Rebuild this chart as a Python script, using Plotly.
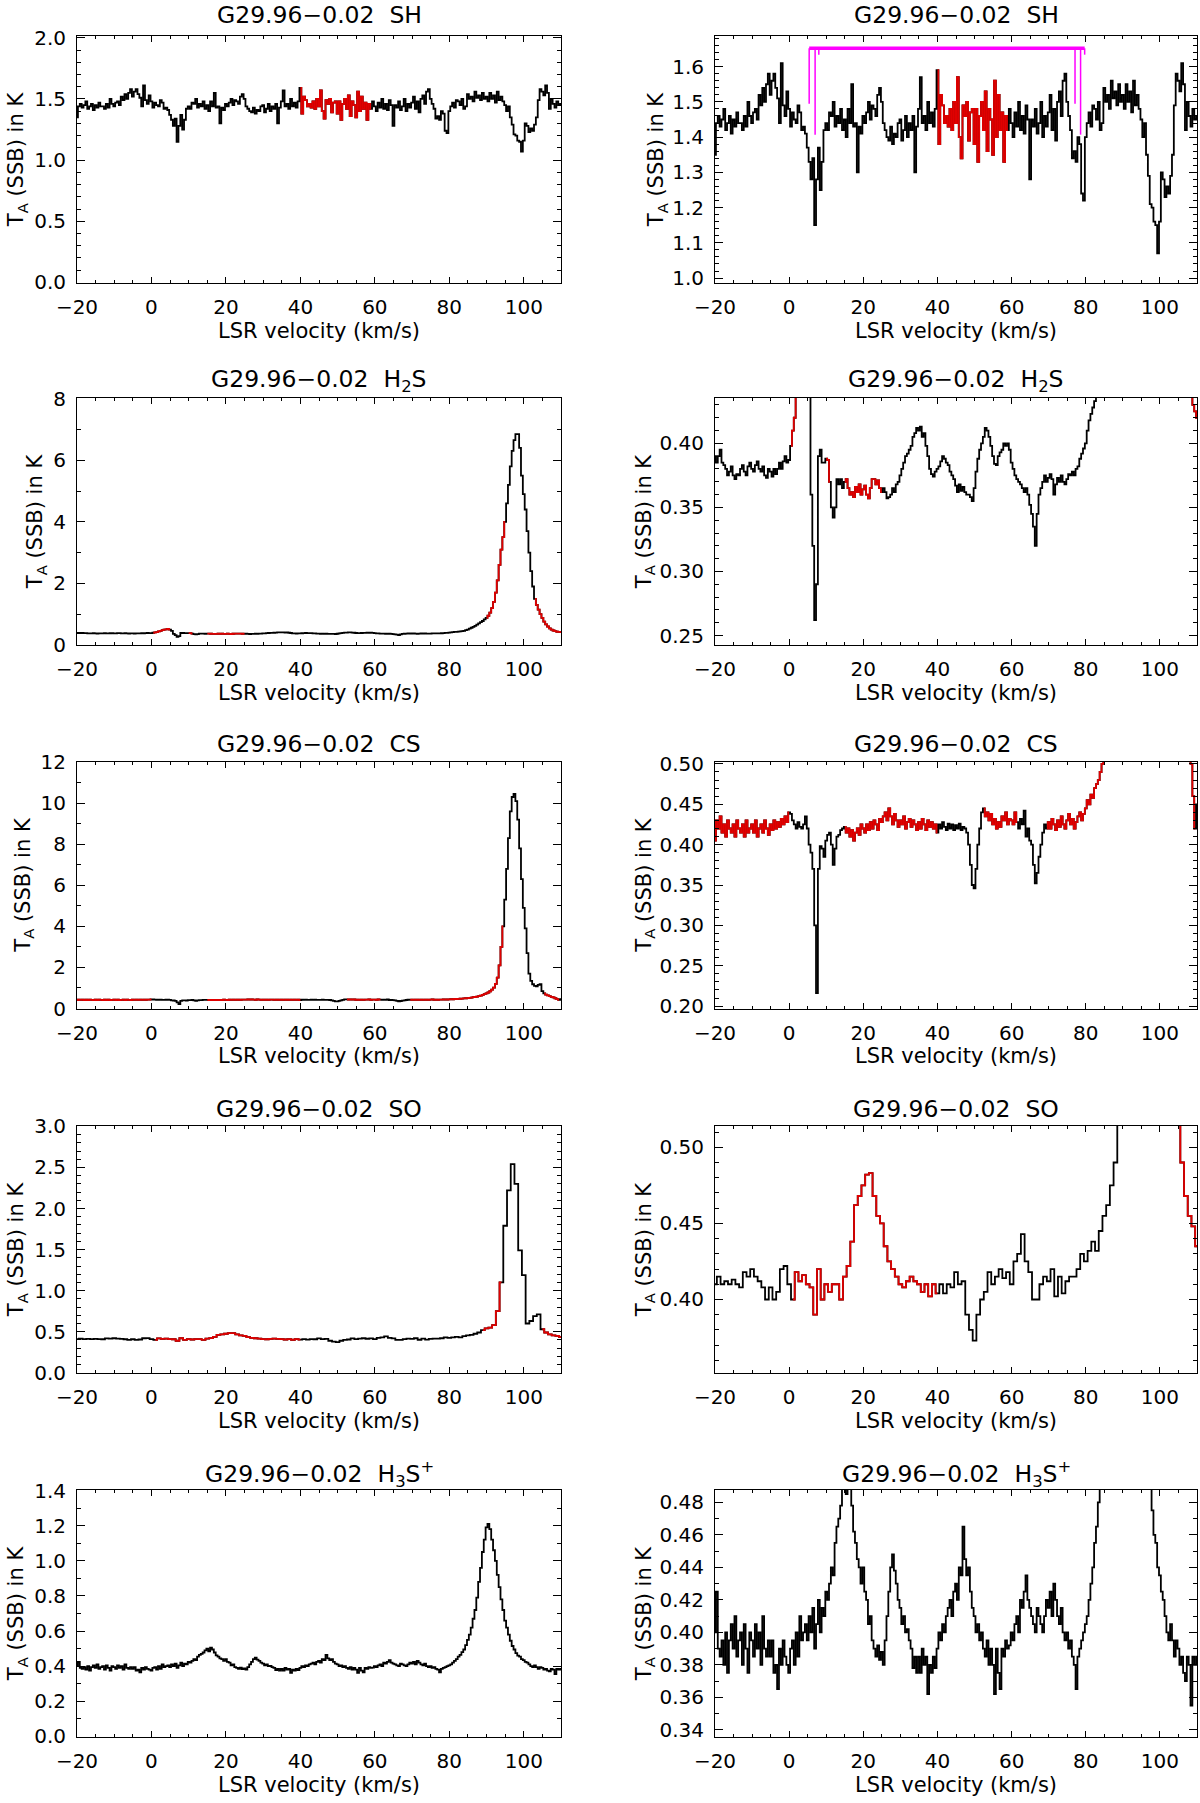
import numpy as np
import plotly.graph_objects as go

# ---------------- data (antenna temperature in mK) ----------------
V_START = -20.0          # first channel, km/s
DV = 0.5                 # channel width SH, H2S, CS, H3S+
DV_SO = 1.0              # channel width SO

sh_mK = [
    1350,1440,1460,1430,1450,1480,1420,1440,1460,1410,
    1450,1430,1470,1440,1440,1420,1460,1430,1500,1460,
    1440,1470,1480,1450,1520,1490,1540,1500,1550,1580,
    1520,1560,1580,1540,1510,1440,1610,1490,1460,1530,
    1480,1430,1470,1450,1440,1490,1470,1420,1430,1410,
    1370,1330,1280,1340,1150,1280,1370,1250,1330,1420,
    1440,1420,1470,1460,1500,1430,1460,1440,1480,1420,
    1450,1400,1480,1440,1550,1430,1440,1300,1430,1410,
    1460,1440,1470,1500,1450,1490,1480,1460,1520,1540,
    1500,1440,1420,1400,1390,1430,1380,1410,1400,1440,
    1450,1390,1420,1460,1400,1440,1420,1460,1300,1430,
    1480,1570,1440,1460,1420,1500,1440,1470,1430,1480,
    1590,1380,1520,1490,1440,1460,1430,1480,1420,1500,
    1440,1570,1400,1340,1490,1460,1500,1390,1470,1480,
    1380,1480,1330,1460,1500,1420,1530,1360,1480,1450,
    1350,1560,1400,1520,1420,1470,1330,1460,1420,1480,
    1440,1400,1470,1430,1500,1420,1460,1410,1490,1450,
    1280,1450,1430,1480,1410,1440,1500,1400,1460,1430,
    1470,1520,1420,1480,1390,1500,1530,1460,1560,1580,
    1500,1460,1420,1340,1360,1330,1400,1380,1240,1220,
    1400,1440,1470,1430,1490,1480,1450,1500,1420,1440,
    1540,1500,1520,1480,1560,1510,1530,1490,1550,1500,
    1520,1480,1550,1500,1530,1470,1560,1490,1520,1480,
    1450,1400,1440,1350,1290,1210,1200,1160,1150,1070,
    1160,1300,1280,1230,1260,1240,1290,1350,1490,1580,
    1560,1530,1610,1550,1420,1500,1460,1430,1480,1450,
    1460]

h2s_mK = [
    390,385,390,395,385,383,380,375,378,382,
    375,372,376,375,380,383,378,375,382,385,
    380,378,383,386,380,378,382,375,373,380,
    378,374,380,376,380,385,380,386,390,385,
    387,398,410,420,440,460,480,500,510,520,
    500,460,360,320,262,290,390,395,385,385,
    388,387,370,350,342,350,372,368,372,365,
    370,372,365,360,362,358,366,362,368,360,
    364,367,360,357,365,372,372,368,371,365,
    362,365,362,357,358,360,365,362,368,370,
    375,380,385,390,392,395,398,405,408,412,
    410,413,405,408,398,390,380,376,374,378,
    380,382,386,390,388,385,383,378,375,372,
    367,362,368,363,366,362,360,360,358,355,
    365,378,388,395,400,405,412,410,405,398,
    390,384,383,390,393,395,400,398,400,395,
    385,380,375,372,370,368,365,362,365,360,
    352,345,335,320,345,360,365,370,375,370,
    373,376,372,360,368,373,370,375,370,368,
    372,376,375,378,375,380,382,388,392,396,
    400,410,418,423,428,433,440,450,460,480,
    500,530,560,590,620,660,700,740,780,830,
    880,950,1050,1200,1400,1700,2100,2600,3100,3500,
    4000,4600,5200,5800,6300,6650,6850,6850,6400,5500,
    4900,4400,3700,3000,2400,1900,1500,1300,1150,1000,
    880,760,670,600,540,500,470,450,430,425,
    420]

cs_mK = [
    405,430,420,435,415,425,410,430,420,415,
    425,410,430,420,415,425,410,430,415,420,
    425,415,430,410,420,425,415,430,420,412,
    425,418,430,420,428,422,432,425,435,428,
    440,438,430,425,420,428,422,420,425,435,
    420,400,390,370,300,216,370,398,395,385,
    405,412,415,400,375,395,410,412,418,420,
    422,415,420,410,418,405,415,420,412,425,
    420,415,425,418,428,420,430,425,418,432,
    428,435,440,430,445,435,425,438,430,422,
    430,425,435,420,428,432,422,430,425,418,
    428,420,432,425,418,430,422,428,420,425,
    415,425,420,428,422,418,426,420,425,418,
    424,420,426,418,422,420,415,400,375,350,
    346,370,400,420,440,445,435,440,430,438,
    425,432,420,428,422,435,430,440,425,432,
    430,425,440,428,420,432,425,442,410,420,
    405,400,375,352,365,385,400,415,425,420,
    428,420,432,425,418,430,422,435,425,420,
    430,438,425,432,420,428,435,440,430,438,
    445,455,450,462,458,470,475,480,490,500,
    510,520,530,550,560,580,600,630,660,700,
    740,780,840,920,1020,1200,1500,2100,3000,4000,
    5300,6800,8300,9600,10300,10450,10100,9200,7800,6300,
    4900,3900,2700,1700,1350,1180,1100,1080,1150,1180,
    850,740,680,640,600,570,540,500,460,420,
    450]

so_mK = [
    410,415,410,412,410,413,410,408,418,415,
    420,415,412,408,400,408,400,405,420,422,
    410,400,418,412,416,410,408,390,420,400,
    410,405,410,410,400,415,422,438,462,468,
    475,482,483,468,455,450,435,425,420,415,
    410,408,412,415,412,410,405,410,402,410,
    404,410,404,410,408,418,410,412,390,380,
    373,390,400,405,418,410,415,420,414,418,
    410,425,430,443,425,418,400,400,410,415,
    412,420,402,415,404,412,415,415,420,430,
    425,432,438,432,445,455,462,475,490,520,
    540,550,580,750,1100,1790,2220,2540,2300,1490,
    1190,600,630,690,710,530,490,468,455,448,
    435]

h3sp_mK = [
    400,425,390,385,395,380,400,375,395,405,
    390,410,385,395,400,380,405,390,375,400,
    395,385,405,390,400,380,410,390,385,395,
    385,395,375,380,365,390,380,395,385,380,
    375,390,395,380,400,385,410,395,400,405,
    395,410,400,415,390,405,420,400,415,410,
    425,420,430,440,435,455,465,470,478,490,
    500,485,505,495,478,462,455,445,440,430,
    440,425,420,405,410,395,390,385,392,383,
    388,380,395,410,425,440,448,438,430,420,
    415,405,410,400,402,395,390,378,385,375,
    385,375,390,380,385,362,380,375,385,378,
    390,400,395,405,400,410,415,420,410,425,
    430,420,440,435,465,445,435,440,425,415,
    410,400,405,395,400,390,385,395,380,390,
    380,362,390,375,365,390,385,395,390,392,
    400,395,405,410,400,420,415,425,435,420,
    415,410,405,400,415,410,405,400,410,420,
    415,425,410,430,420,410,405,415,400,395,
    400,390,395,385,380,365,385,390,395,400,
    405,410,420,430,440,455,465,480,495,520,
    550,580,620,670,720,790,880,960,1050,1120,
    1190,1210,1180,1120,1060,1000,920,850,780,720,
    660,620,580,545,515,495,475,460,455,440,
    435,425,420,410,400,395,405,395,385,395,
    390,380,385,375,370,385,380,355,385,380,
    385]

# velocity windows drawn in red (km/s)
red_sh = [(40, 59)]
red_h2s = [(0.5, 5), (10, 11), (15, 25), (90, 95), (103, 110)]
red_cs = [(-20, 0), (15, 40), (52.5, 61.5), (69.5, 94.5), (105.5, 109.5)]
red_so = [(1, 40), (89, 94), (105, 110)]
red_h3sp = []

# SH hyperfine marker (magenta) on the zoomed SH panel
hfs_v = [5.4, 7.0, 8.0, 77.1, 78.6, 79.7]
hfs_bottom = [1.495, 1.407, 1.634, 1.495, 1.407, 1.634]
hfs_level = 1.652

titles = ["G29.96\u22120.02  SH", "G29.96\u22120.02  H<sub>2</sub>S", "G29.96\u22120.02  CS",
          "G29.96\u22120.02  SO", "G29.96\u22120.02  H<sub>3</sub>S<sup>+</sup>"]

# y-axis settings: (range, dtick, minor dtick, format) for left / right
yleft = [([-0.005, 2.015], 0.5, 0.1, ".1f"),
         ([0, 8.02], 2, 1, "d"),
         ([0, 12.03], 2, 1, "d"),
         ([-0.003, 3.005], 0.5, 0.1, ".1f"),
         ([-0.003, 1.403], 0.2, 0.1, ".1f")]
yright = [([0.986, 1.687], 0.1, 0.02, ".1f"),
          ([0.2426, 0.4354], 0.05, 0.01, ".2f"),
          ([0.197, 0.503], 0.05, 0.01, ".2f"),
          ([0.3517, 0.514], 0.05, 0.01, ".2f"),
          ([0.3356, 0.4876], 0.02, 0.01, ".2f")]

# ---------------- build ----------------
spectra = [sh_mK, h2s_mK, cs_mK, so_mK, h3sp_mK]
steps = [DV, DV, DV, DV_SO, DV]
reds = [red_sh, red_h2s, red_cs, red_so, red_h3sp]

W, H = 1200, 1803
XL = (77, 561)
XR = (715, 1197)
ROW_TOP = [36, 398, 761.5, 1126, 1490]
TITLE_Y = [15, 380, 744, 1109, 1474]
PH = 247
FONT = "DejaVu Sans, Liberation Sans, Arial, sans-serif"
RED = "#e00000"
LW = 1.8
TICKSIZE = 20
TITLESIZE = 21

fig = go.Figure()
layout = dict(width=W, height=H, margin=dict(l=0, r=0, t=0, b=0), autosize=False,
              paper_bgcolor="white", plot_bgcolor="white", showlegend=False,
              font=dict(family=FONT, color="black"))
annotations = []

for r in range(5):
    temps = np.array(spectra[r], dtype=float) / 1000.0
    v = V_START + steps[r] * np.arange(len(temps))
    t_px = ROW_TOP[r]
    b_px = t_px + PH
    ydom = [1 - b_px / H, 1 - t_px / H]
    for c in range(2):
        n = 2 * r + c + 1
        xs = "x" if n == 1 else f"x{n}"
        ys = "y" if n == 1 else f"y{n}"
        xname = "xaxis" if n == 1 else f"xaxis{n}"
        yname = "yaxis" if n == 1 else f"yaxis{n}"
        xp = XL if c == 0 else XR
        xdom = [xp[0] / W, xp[1] / W]

        fig.add_trace(go.Scatter(x=v, y=temps, mode="lines", line=dict(color="black", width=LW, shape="hvh"),
                                 xaxis=xs, yaxis=ys, hoverinfo="skip"))
        for (a, b) in reds[r]:
            m = (v >= a - 1e-9) & (v <= b + 1e-9)
            fig.add_trace(go.Scatter(x=v[m], y=temps[m], mode="lines",
                                     line=dict(color=RED, width=LW, shape="hvh"),
                                     xaxis=xs, yaxis=ys, hoverinfo="skip"))

        yr, ydt, ymin, yfmt = (yleft if c == 0 else yright)[r]
        layout[xname] = dict(domain=xdom, anchor=ys, range=[-20, 110], tick0=0, dtick=20,
                             ticks="inside", ticklen=6, tickwidth=1, tickcolor="black",
                             minor=dict(ticks="inside", ticklen=3, dtick=5, tick0=0,
                                        tickcolor="black", tickwidth=1),
                             showline=True, linecolor="black", linewidth=1, mirror="ticks",
                             showgrid=False, zeroline=False, automargin=False,
                             tickfont=dict(family=FONT, size=TICKSIZE, color="black"),
                             ticklabelstandoff=6,
                             title=dict(text="LSR velocity (km/s)", standoff=4,
                                        font=dict(family=FONT, size=TITLESIZE, color="black")))
        layout[yname] = dict(domain=ydom, anchor=xs, range=yr, tick0=0, dtick=ydt,
                             tickformat=yfmt,
                             ticks="inside", ticklen=8, tickwidth=1, tickcolor="black",
                             minor=dict(ticks="inside", ticklen=4, dtick=ymin, tick0=0,
                                        tickcolor="black", tickwidth=1),
                             showline=True, linecolor="black", linewidth=1, mirror="ticks",
                             showgrid=False, zeroline=False, automargin=False,
                             tickfont=dict(family=FONT, size=TICKSIZE, color="black"),
                             ticklabelstandoff=6,
                             title=dict(text="T<sub>A</sub> (SSB) in K", standoff=4 if c == 0 else 2,
                                        font=dict(family=FONT, size=TITLESIZE, color="black")))
        annotations.append(dict(text=titles[r], xref="paper", yref="paper",
                                x=(xdom[0] + xdom[1]) / 2, y=1 - TITLE_Y[r] / H,
                                xanchor="center", yanchor="middle", showarrow=False,
                                font=dict(family=FONT, size=23.5, color="black")))

# magenta hyperfine markers on the zoomed SH panel
hx, hy = [], []
for xv, yb in zip(hfs_v, hfs_bottom):
    hx += [xv, xv, None]
    hy += [hfs_level, yb, None]
fig.add_trace(go.Scatter(x=hx, y=hy, mode="lines", line=dict(color="#ff00ff", width=1.5),
                         xaxis="x2", yaxis="y2", hoverinfo="skip"))
fig.add_trace(go.Scatter(x=[min(hfs_v), max(hfs_v)], y=[hfs_level, hfs_level], mode="lines",
                         line=dict(color="#ff00ff", width=3.5), xaxis="x2", yaxis="y2", hoverinfo="skip"))

layout["annotations"] = annotations
fig.update_layout(**layout)
fig.write_html("out.html",
               config={"displayModeBar": False, "staticPlot": True},
               post_script="document.body.style.margin='0px';document.body.style.padding='0px';"
                           "document.body.style.overflow='hidden';")
